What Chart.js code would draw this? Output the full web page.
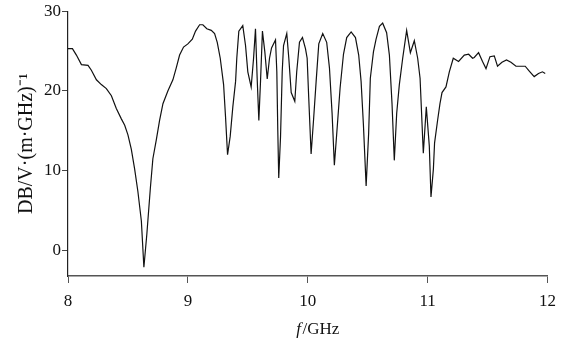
<!DOCTYPE html>
<html>
<head>
<meta charset="utf-8">
<script src="https://cdn.jsdelivr.net/npm/chart.js@4/dist/chart.umd.min.js"></script>
<style>
  html, body { margin: 0; padding: 0; background: #fff; }
  #wrap { width: 564px; height: 343px; }
</style>
</head>
<body>
<div id="wrap"><canvas id="myChart"></canvas></div>
<script>
// frequency (GHz) and attenuation
var freq = [
  8.000, 8.037, 8.070, 8.112, 8.167, 8.195, 8.237, 8.278, 8.320, 8.362,
  8.403, 8.445, 8.473, 8.500, 8.528, 8.556, 8.583, 8.612, 8.633, 8.658,
  8.687, 8.708, 8.737, 8.764, 8.792, 8.833, 8.875, 8.903, 8.931, 8.964,
  9.000, 9.037, 9.064, 9.098, 9.125, 9.158, 9.195, 9.223, 9.245, 9.270,
  9.298, 9.314, 9.331, 9.353, 9.375, 9.398, 9.408, 9.425, 9.458, 9.481,
  9.500, 9.528, 9.548, 9.564, 9.578, 9.592, 9.606, 9.622, 9.642, 9.662,
  9.681, 9.698, 9.731, 9.742, 9.750, 9.758, 9.773, 9.787, 9.798, 9.825,
  9.842, 9.862, 9.892, 9.908, 9.931, 9.956, 9.981, 9.995, 10.008, 10.028,
  10.048, 10.070, 10.092, 10.125, 10.158, 10.181, 10.203, 10.222, 10.242, 10.270,
  10.298, 10.325, 10.362, 10.398, 10.425, 10.445, 10.464, 10.487, 10.508, 10.522,
  10.548, 10.570, 10.598, 10.625, 10.658, 10.681, 10.703, 10.722, 10.742, 10.764,
  10.792, 10.825, 10.856, 10.889, 10.917, 10.937, 10.964, 10.989, 11.014, 11.028,
  11.048, 11.058, 11.083, 11.103, 11.120, 11.153, 11.181, 11.214, 11.258, 11.306,
  11.342, 11.375, 11.389, 11.425, 11.458, 11.487, 11.520, 11.556, 11.583, 11.620,
  11.658, 11.695, 11.737, 11.778, 11.814, 11.848, 11.889, 11.925, 11.958, 11.981
];
var attenuation = [
  25.3, 25.3, 24.5, 23.3, 23.2, 22.6, 21.4, 20.8, 20.3, 19.4,
  17.8, 16.5, 15.7, 14.5, 12.7, 10.2, 7.4, 3.7, -2.1, 2.1,
  7.8, 11.5, 13.9, 16.3, 18.4, 20.0, 21.4, 22.9, 24.5, 25.5,
  25.9, 26.5, 27.5, 28.3, 28.3, 27.8, 27.6, 27.2, 26.1, 24.1,
  20.8, 16.8, 12.0, 14.3, 18.0, 21.2, 24.1, 27.5, 28.2, 25.7,
  22.4, 20.5, 24.1, 27.8, 21.6, 16.3, 21.2, 27.5, 24.9, 21.5,
  24.1, 25.4, 26.4, 22.4, 15.1, 9.1, 14.3, 22.4, 25.7, 27.2,
  24.1, 19.8, 18.7, 22.4, 26.1, 26.7, 25.3, 24.1, 19.2, 12.1,
  16.3, 21.2, 25.9, 27.2, 26.1, 22.9, 17.2, 10.7, 14.7, 20.4,
  24.6, 26.7, 27.4, 26.7, 24.5, 21.2, 15.9, 8.1, 14.7, 21.6,
  24.9, 26.5, 28.1, 28.5, 27.3, 24.5, 18.4, 11.3, 17.2, 20.8,
  24.1, 27.6, 24.8, 26.3, 24.1, 21.6, 12.2, 18.0, 13.1, 6.7,
  10.2, 13.5, 16.3, 18.4, 19.8, 20.5, 22.4, 24.1, 23.7, 24.5,
  24.6, 24.1, 24.2, 24.8, 23.7, 22.8, 24.3, 24.4, 23.1, 23.6,
  23.9, 23.6, 23.1, 23.1, 23.1, 22.5, 21.8, 22.2, 22.4, 22.2
];
var xTicks = [8, 9, 10, 11, 12];
var yTicks = [0, 10, 20, 30];

var serif = '"Liberation Serif", "Times New Roman", serif';

// x axis title with an italic f
var xTitle = {
  id: 'xTitle',
  afterDraw: function (chart) {
    var ctx = chart.ctx, area = chart.chartArea;
    var italic = 'italic 17px ' + serif, regular = '17px ' + serif;
    ctx.save();
    ctx.fillStyle = '#111';
    ctx.textBaseline = 'middle';
    ctx.font = italic;
    var w1 = ctx.measureText('f').width + 1.5;
    ctx.font = regular;
    var w2 = ctx.measureText('/GHz').width;
    var x0 = (area.left + area.right) / 2 + 10 - (w1 + w2) / 2;
    var y = area.bottom + 54;
    ctx.font = italic;
    ctx.fillText('f', x0, y);
    ctx.font = regular;
    ctx.fillText('/GHz', x0 + w1, y);
    ctx.restore();
  }
};

var ctx = document.getElementById('myChart').getContext('2d');
var myChart = new Chart(ctx, {
  type: 'line',
  data: {
    datasets: [{
      data: freq.map(function (f, i) { return { x: f, y: attenuation[i] }; }),
      borderColor: '#111',
      borderWidth: 1.2,
      pointRadius: 0,
      tension: 0,
      fill: false
    }]
  },
  options: {
    responsive: true,
    maintainAspectRatio: false,
    animation: false,
    layout: { padding: { left: 0, right: 16, top: 0, bottom: 0 } },
    plugins: { legend: { display: false }, tooltip: { enabled: false } },
    scales: {
      x: {
        type: 'linear',
        min: 8,
        max: 12,
        afterBuildTicks: function (s) { s.ticks = xTicks.map(function (v) { return { value: v }; }); },
        afterFit: function (s) { s.height = 67; },
        grid: { drawOnChartArea: false, tickLength: 7, color: '#555' },
        border: { color: '#555', width: 1.6 },
        ticks: { color: '#111', padding: 8, font: { family: serif, size: 17 } }
      },
      y: {
        min: -3.2,
        max: 30,
        afterBuildTicks: function (s) { s.ticks = yTicks.map(function (v) { return { value: v }; }); },
        afterFit: function (s) { s.width = 68; },
        grid: { drawOnChartArea: false, tickLength: 6, color: '#444' },
        border: { color: '#222', width: 1.2 },
        ticks: { color: '#111', padding: 1, font: { family: serif, size: 17 } },
        title: {
          display: true,
          text: 'DB/V\u00b7(m\u00b7GHz)\u207b\u00b9',
          color: '#111',
          padding: { top: 15, bottom: 0 },
          font: { family: serif, size: 20 }
        }
      }
    }
  },
  plugins: [xTitle]
});
</script>
</body>
</html>
